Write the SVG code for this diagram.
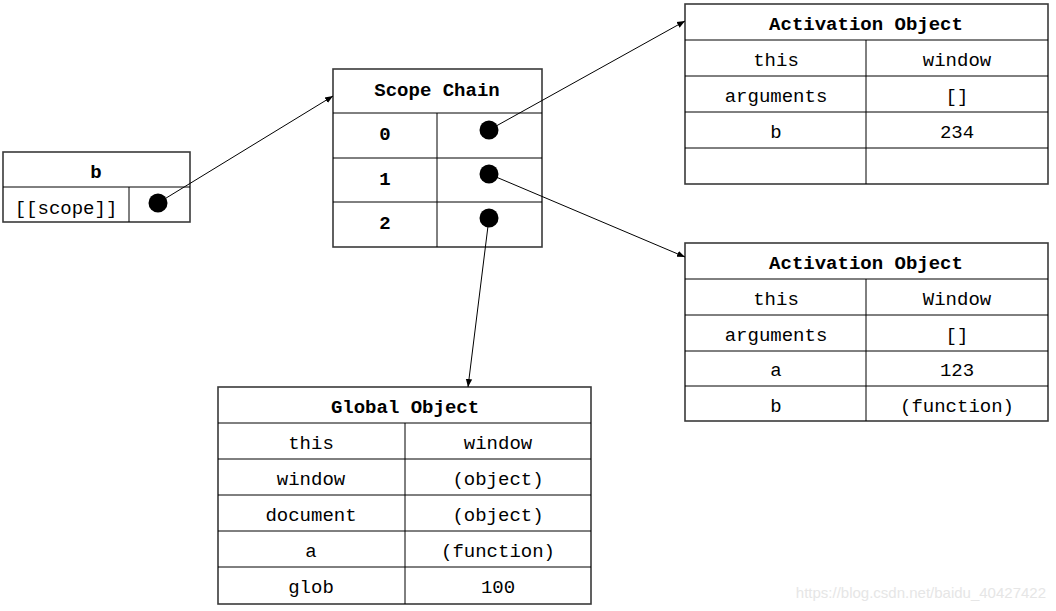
<svg xmlns="http://www.w3.org/2000/svg" width="1056" height="611" viewBox="0 0 1056 611">
<style>
.box{fill:#fff;stroke:#3a3a3a;stroke-width:1.6}
.ln{stroke:#000;stroke-width:1;fill:none}
.t{font-family:"Liberation Mono","DejaVu Sans Mono",monospace;font-size:19px;fill:#000;text-anchor:middle;dominant-baseline:central}
.b{font-weight:bold}
.dot{fill:#000}
.con{stroke:#000;stroke-width:1;fill:none;marker-end:url(#ah)}
.wm{font-family:"Liberation Sans",Arial,sans-serif;font-size:15px;fill:#e6e6e6;text-anchor:end}
</style>
<defs>
<marker id="ah" viewBox="0 0 10 10" refX="10" refY="5" markerWidth="8" markerHeight="8" markerUnits="userSpaceOnUse" orient="auto">
<path d="M0,1 L10,5 L0,9 Z" fill="#000"/>
</marker>
</defs>
<rect width="1056" height="611" fill="#fff"/>

<g id="node-b">
<rect class="box" x="3" y="152" width="187" height="70"/>
<line class="ln" x1="3" y1="187" x2="190" y2="187"/>
<line class="ln" x1="129" y1="187" x2="129" y2="222"/>
<text class="t b" x="96" y="173">b</text>
<text class="t" x="66" y="209">[[scope]]</text>
<circle class="dot" cx="158" cy="203" r="9.5"/>
</g>

<g id="node-scope">
<rect class="box" x="333" y="69" width="209" height="178"/>
<line class="ln" x1="333" y1="113" x2="542" y2="113"/>
<line class="ln" x1="333" y1="158" x2="542" y2="158"/>
<line class="ln" x1="333" y1="202" x2="542" y2="202"/>
<line class="ln" x1="437" y1="113" x2="437" y2="247"/>
<text class="t b" x="437" y="91">Scope Chain</text>
<text class="t b" x="385" y="135">0</text>
<text class="t b" x="385" y="180">1</text>
<text class="t b" x="385" y="224">2</text>
<circle class="dot" cx="489" cy="130" r="9.5"/>
<circle class="dot" cx="489" cy="174" r="9.5"/>
<circle class="dot" cx="489" cy="218" r="9.5"/>
</g>

<g id="node-ao1">
<rect class="box" x="685" y="4" width="363" height="180"/>
<line class="ln" x1="685" y1="40" x2="1048" y2="40"/>
<line class="ln" x1="685" y1="76" x2="1048" y2="76"/>
<line class="ln" x1="685" y1="112" x2="1048" y2="112"/>
<line class="ln" x1="685" y1="148" x2="1048" y2="148"/>
<line class="ln" x1="866" y1="40" x2="866" y2="184"/>
<text class="t b" x="866" y="25">Activation Object</text>
<text class="t" x="776" y="61">this</text>
<text class="t" x="957" y="61">window</text>
<text class="t" x="776" y="97">arguments</text>
<text class="t" x="957" y="97">[]</text>
<text class="t" x="776" y="133">b</text>
<text class="t" x="957" y="133">234</text>
</g>

<g id="node-ao2">
<rect class="box" x="685" y="243" width="363" height="178"/>
<line class="ln" x1="685" y1="279" x2="1048" y2="279"/>
<line class="ln" x1="685" y1="315" x2="1048" y2="315"/>
<line class="ln" x1="685" y1="351" x2="1048" y2="351"/>
<line class="ln" x1="685" y1="386" x2="1048" y2="386"/>
<line class="ln" x1="866" y1="279" x2="866" y2="421"/>
<text class="t b" x="866" y="264">Activation Object</text>
<text class="t" x="776" y="300">this</text>
<text class="t" x="957" y="300">Window</text>
<text class="t" x="776" y="336">arguments</text>
<text class="t" x="957" y="336">[]</text>
<text class="t" x="776" y="371">a</text>
<text class="t" x="957" y="371">123</text>
<text class="t" x="776" y="407">b</text>
<text class="t" x="957" y="407">(function)</text>
</g>

<g id="node-global">
<rect class="box" x="218" y="387" width="373" height="217"/>
<line class="ln" x1="218" y1="423" x2="591" y2="423"/>
<line class="ln" x1="218" y1="459" x2="591" y2="459"/>
<line class="ln" x1="218" y1="495" x2="591" y2="495"/>
<line class="ln" x1="218" y1="531" x2="591" y2="531"/>
<line class="ln" x1="218" y1="567" x2="591" y2="567"/>
<line class="ln" x1="405" y1="423" x2="405" y2="604"/>
<text class="t b" x="405" y="408">Global Object</text>
<text class="t" x="311" y="444">this</text>
<text class="t" x="498" y="444">window</text>
<text class="t" x="311" y="480">window</text>
<text class="t" x="498" y="480">(object)</text>
<text class="t" x="311" y="516">document</text>
<text class="t" x="498" y="516">(object)</text>
<text class="t" x="311" y="552">a</text>
<text class="t" x="498" y="552">(function)</text>
<text class="t" x="311" y="588">glob</text>
<text class="t" x="498" y="588">100</text>
</g>

<g id="connectors">
<line class="con" x1="158" y1="203" x2="333" y2="96"/>
<line class="con" x1="489" y1="130" x2="685" y2="21"/>
<line class="con" x1="489" y1="174" x2="685" y2="257"/>
<line class="con" x1="489" y1="218" x2="468" y2="387"/>
</g>

<text class="wm" x="1046" y="598">https://blog.csdn.net/baidu_40427422</text>
</svg>
